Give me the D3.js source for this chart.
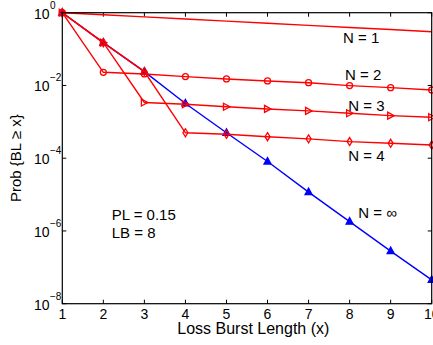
<!DOCTYPE html>
<html><head><meta charset="utf-8">
<script src="https://cdn.jsdelivr.net/npm/d3@7"></script>
<style>
html,body{margin:0;padding:0;background:#fff;overflow:hidden}
text{font-family:"Liberation Sans",Arial,sans-serif;fill:#000}
</style></head><body>
<svg id="c" width="433" height="345"></svg>
<script>
const xVals = [1,2,3,4,5,6,7,8,9,10];
const n1   = [1, 0.875, 0.766, 0.67, 0.586, 0.513, 0.449, 0.393, 0.344, 0.30];
const n2   = [1, 0.023, 0.0207, 0.0175, 0.0151, 0.0133, 0.0119, 0.0099, 0.0087, 0.0075];
const n3   = [1, 0.15, 0.0034, 0.00305, 0.0026, 0.00226, 0.002, 0.00172, 0.00148, 0.00134];
const n4   = [1, 0.15, 0.024, 5.0e-4, 4.55e-4, 3.9e-4, 3.4e-4, 2.86e-4, 2.57e-4, 2.3e-4];
const nInf = [1, 0.15, 0.024, 0.0032, 5.0e-4, 8.1e-5, 1.17e-5, 1.8e-6, 2.8e-7, 4.5e-8];
const xTicks = [1,2,3,4,5,6,7,8,9,10];
const yTickExp = [0,-2,-4,-6,-8];
const seriesLabels = ["N = 1","N = 2","N = 3","N = 4","N = \u221e"];
const noteLines = ["PL = 0.15","LB = 8"];
const xTitle = "Loss Burst Length (x)";
const yTitle = "Prob {BL \u2265 x}";

const svg = d3.select("#c");
const L=62.3, R=431.7, T=12.7, B=303.7;
const x = d3.scaleLinear().domain([1,10]).range([L,R]);
const y = d3.scaleLog().domain([1e-8,1]).range([B,T]);
const red="#ff0000", blue="#0000ff";

// ticks (inward, mirrored)
const tl=4;
const g=svg.append("g");
xTicks.forEach(v=>{
  g.append("line").attr("x1",x(v)).attr("x2",x(v)).attr("y1",B).attr("y2",B-tl).attr("stroke","#000");
  g.append("line").attr("x1",x(v)).attr("x2",x(v)).attr("y1",T).attr("y2",T+tl).attr("stroke","#000");
  g.append("text").attr("x",x(v)).attr("y",B+15.5).attr("text-anchor","middle").attr("font-size",14).text(v);
});
yTickExp.forEach(e=>{
  const yy=y(Math.pow(10,e));
  g.append("line").attr("x1",L).attr("x2",L+tl).attr("y1",yy).attr("y2",yy).attr("stroke","#000");
  g.append("line").attr("x1",R).attr("x2",R-tl).attr("y1",yy).attr("y2",yy).attr("stroke","#000");
  g.append("text").attr("x",49.5).attr("y",yy+6).attr("text-anchor","end").attr("font-size",14).text("10");
  g.append("text").attr("x",50).attr("y",yy-4).attr("font-size",10).text(e===0?"0":"\u2212"+(-e));
});

const line=d3.line().x((d,i)=>x(xVals[i])).y(d=>y(d));
function drawSeries(vals,color,marker){
  svg.append("path").attr("d",line(vals)).attr("fill","none").attr("stroke",color).attr("stroke-width",1.4);
  if(!marker) return;
  vals.forEach((v,i)=>{
    const cx=x(xVals[i]), cy=y(v);
    let el;
    if(marker==="circle") el=svg.append("circle").attr("cx",cx).attr("cy",cy).attr("r",3);
    else if(marker==="tri-right") el=svg.append("path").attr("d",`M${cx-3},${cy-3.5}L${cx+3.5},${cy}L${cx-3},${cy+3.5}Z`);
    else if(marker==="diamond") el=svg.append("path").attr("d",`M${cx},${cy-4}L${cx+2.5},${cy}L${cx},${cy+4}L${cx-2.5},${cy}Z`);
    else if(marker==="tri-up") el=svg.append("path").attr("d",`M${cx},${cy-4}L${cx+3.5},${cy+2.5}L${cx-3.5},${cy+2.5}Z`);
    el.attr("fill",marker==="tri-up"?color:"none").attr("stroke",color).attr("stroke-width",1.3);
  });
}
drawSeries(nInf,blue,"tri-up");
drawSeries(n1,red,null);
drawSeries(n2,red,"circle");
drawSeries(n3,red,"tri-right");
drawSeries(n4,red,"diamond");

// box
svg.append("rect").attr("x",L).attr("y",T).attr("width",R-L).attr("height",B-T)
  .attr("fill","none").attr("stroke","#000").attr("stroke-width",1.2);

// labels
const labPos=[[343,42.7],[345,80],[348.3,110.7],[348.3,160.7],[358.3,217.7]];
seriesLabels.forEach((t,i)=>svg.append("text").attr("x",labPos[i][0]).attr("y",labPos[i][1]).attr("font-size",15).text(t));
noteLines.forEach((t,i)=>svg.append("text").attr("x",111.7).attr("y",220+i*18.3).attr("font-size",15).text(t));

svg.append("text").attr("x",253.3).attr("y",333.5).attr("text-anchor","middle").attr("font-size",16).text(xTitle);
svg.append("text").attr("transform",`translate(20.5,${(T+B)/2}) rotate(-90)`).attr("text-anchor","middle").attr("font-size",15).text(yTitle);
</script></body></html>
